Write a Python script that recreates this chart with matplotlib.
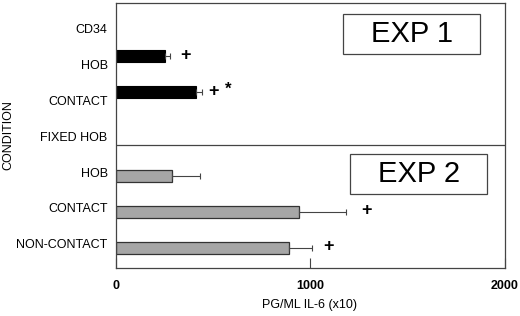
import matplotlib.pyplot as plt
from matplotlib.patches import Rectangle

plt.rcParams['font.family'] = ['Liberation Sans', 'DejaVu Sans']

# data
conditions = ['CD34', 'HOB', 'CONTACT', 'FIXED HOB', 'HOB', 'CONTACT', 'NON-CONTACT']
values = [0, 250, 410, 0, 290, 940, 890]
errors = [0, 28, 32, 0, 140, 245, 120]
marks = ['', '+', '+', '', '', '+', '+']
mark_x = [0, 355, 500, 0, 0, 1288, 1093]
exp = [1, 1, 1, 1, 2, 2, 2]

# layout: label rows evenly spaced, bars offset from their label
label_y = list(range(len(conditions)))
bar_y = [y + (-0.22 if g == 1 else 0.11) for y, g in zip(label_y, exp)]

fig = plt.figure(figsize=(5.2, 3.16), dpi=100)
ax = fig.add_axes([0.223, 0.152, 0.748, 0.838])

for y, v, e, m, mx, g in zip(bar_y, values, errors, marks, mark_x, exp):
    if v == 0:
        continue
    if g == 1:
        ax.barh(y, v, height=0.33, color='black', edgecolor='black', linewidth=0.8)
    else:
        ax.barh(y, v, height=0.32, color='#a6a6a6', edgecolor='#333333', linewidth=0.9)
    ax.errorbar(v, y, xerr=[[0], [e]], fmt='none', ecolor='#444444',
                elinewidth=0.8, capsize=2.5, capthick=0.8)
    if m:
        ax.text(mx, y - 0.03, m, fontsize=13, fontweight='bold',
                va='center', ha='center')

# significance star on exp 1 contact
ax.text(575, bar_y[2] - 0.08, '*', fontsize=12, fontweight='bold',
        va='center', ha='center')

ax.axhline(3.25, color='#444444', linewidth=0.9)

ax.set_xlim(0, 2000)
ax.set_ylim(6.667, -0.694)
ax.set_xticks([0, 1000, 2000])
ax.set_xticklabels(['0', '1000', '2000'], fontweight='bold', fontsize=9)
ax.tick_params(axis='x', direction='in', length=7, width=0.8, color='#444444', pad=9)
ax.set_yticks(label_y)
ax.set_yticklabels(conditions, fontsize=9)
ax.tick_params(axis='y', length=0, pad=6)

for s in ax.spines.values():
    s.set_color('#444444')
    s.set_linewidth(0.9)

fig.text(310 / 520, 1 - 305 / 316, 'PG/ML IL-6 (x10)', fontsize=9,
         ha='center', va='center')
fig.text(8 / 520, 1 - 135 / 316, 'CONDITION', fontsize=9, rotation=90,
         ha='center', va='center')

# experiment boxes
for x0, y0, txt in [(0.584, 0.808, 'EXP 1'), (0.602, 0.28, 'EXP 2')]:
    ax.add_patch(Rectangle((x0, y0), 0.353, 0.15, transform=ax.transAxes,
                           fill=False, edgecolor='#444444', linewidth=0.9))
    ax.text(x0 + 0.353 / 2, y0 + 0.075, txt, transform=ax.transAxes,
            fontsize=21, ha='center', va='center')

fig.savefig('out.png', dpi=100)
